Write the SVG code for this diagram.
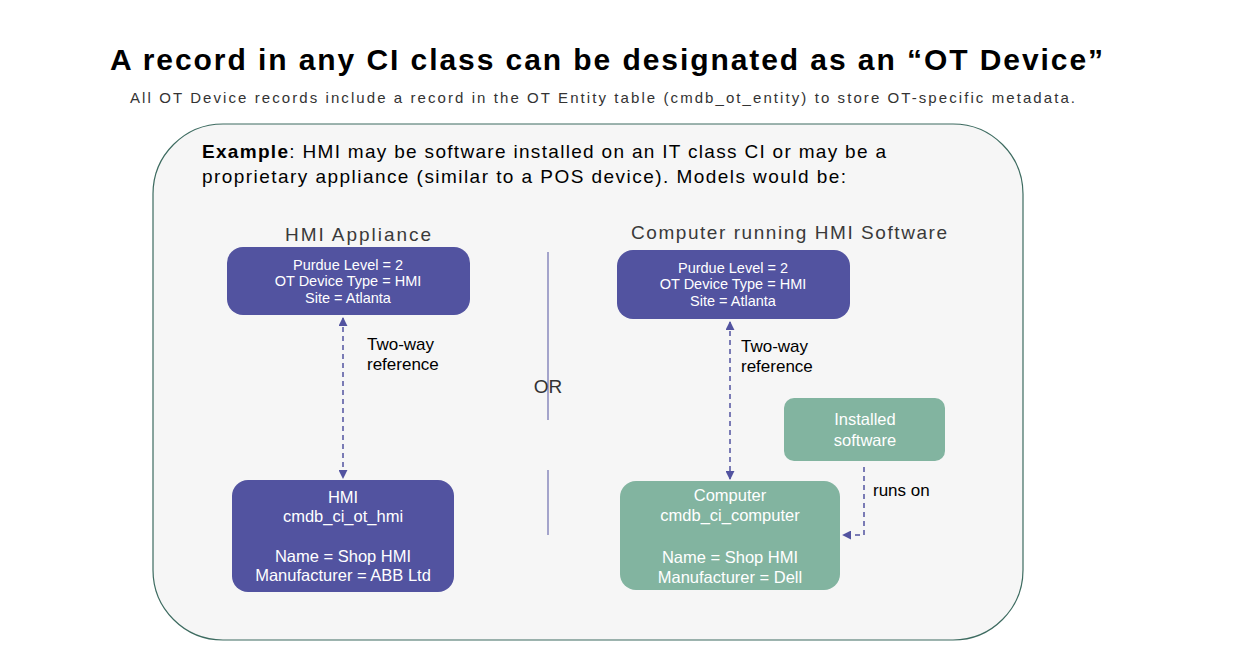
<svg xmlns="http://www.w3.org/2000/svg" width="1246" height="646" viewBox="0 0 1246 646">
<defs>
<style>
.t{font-family:"Liberation Sans",Arial,sans-serif}
.w{fill:#fff;font-size:14.5px;text-anchor:middle;font-family:"Liberation Sans",Arial,sans-serif}
.wb{fill:#fff;font-size:16.5px;text-anchor:middle;font-family:"Liberation Sans",Arial,sans-serif}
.p{fill:#5253A0}
.g{fill:#82B4A0}
.c{stroke:#5253A0;stroke-width:1.5;stroke-dasharray:5 4;fill:none}
</style>
<marker id="a" viewBox="0 0 10 10" refX="9" refY="5" markerWidth="6" markerHeight="6" orient="auto-start-reverse"><path d="M0,0L10,5L0,10z" fill="#5253A0"/></marker>
</defs>
<rect width="1246" height="646" fill="#fff"/>
<text x="110" y="70" class="t" font-size="30" font-weight="bold" fill="#000" textLength="993" lengthAdjust="spacing">A record in any CI class can be designated as an “OT Device”</text>
<text x="130" y="103" class="t" font-size="15" fill="#333" textLength="945" lengthAdjust="spacing">All OT Device records include a record in the OT Entity table (cmdb_ot_entity) to store OT-specific metadata.</text>
<rect x="153" y="124" width="870" height="516" rx="70" fill="#f6f6f6" stroke="#3d6b60" stroke-width="1.2"/>
<text x="202" y="158" class="t" font-size="19" fill="#000" textLength="684" lengthAdjust="spacing"><tspan font-weight="bold">Example</tspan>: HMI may be software installed on an IT class CI or may be a</text>
<text x="202" y="183" class="t" font-size="19" fill="#000" textLength="644" lengthAdjust="spacing">proprietary appliance (similar to a POS device).  Models would be:</text>
<text x="285" y="241" class="t" font-size="19" fill="#3a3a3a" textLength="146" lengthAdjust="spacing">HMI Appliance</text>
<text x="631" y="239" class="t" font-size="19" fill="#3a3a3a" textLength="316" lengthAdjust="spacing">Computer running HMI Software</text>
<g id="sep" stroke="#5253A0" stroke-width="1"><line x1="548" y1="252" x2="548" y2="420"/><line x1="548" y1="470" x2="548" y2="535"/></g>
<text x="548" y="393" class="t" font-size="19" text-anchor="middle" fill="#333">OR</text>
<g id="connectors">
<line class="c" x1="343" y1="318" x2="343" y2="478" marker-start="url(#a)" marker-end="url(#a)"/>
<line class="c" x1="730" y1="322" x2="730" y2="479" marker-start="url(#a)" marker-end="url(#a)"/>
<path class="c" d="M864 467V535H843" marker-end="url(#a)"/>
<text x="367" y="350" class="t" font-size="17" fill="#000">Two-way</text>
<text x="367" y="370" class="t" font-size="17" fill="#000">reference</text>
<text x="741" y="352" class="t" font-size="17" fill="#000">Two-way</text>
<text x="741" y="372" class="t" font-size="17" fill="#000">reference</text>
<text x="873" y="496" class="t" font-size="17" fill="#000">runs on</text>
</g>
<g id="ot1"><rect class="p" x="227" y="247" width="243" height="68" rx="16"/>
<text class="w" x="348" y="270">Purdue Level = 2</text><text class="w" x="348" y="286">OT Device Type = HMI</text><text class="w" x="348" y="303">Site = Atlanta</text></g>
<g id="ot2"><rect class="p" x="617" y="250" width="233" height="69" rx="16"/>
<text class="w" x="733" y="273">Purdue Level = 2</text><text class="w" x="733" y="289">OT Device Type = HMI</text><text class="w" x="733" y="306">Site = Atlanta</text></g>
<g id="hmi"><rect class="p" x="232" y="480" width="222" height="112" rx="16"/>
<text class="wb" x="343" y="503">HMI</text><text class="wb" x="343" y="522">cmdb_ci_ot_hmi</text><text class="wb" x="343" y="562">Name = Shop HMI</text><text class="wb" x="343" y="581">Manufacturer = ABB Ltd</text></g>
<g id="computer"><rect class="g" x="620" y="481" width="220" height="109" rx="16"/>
<text class="wb" x="730" y="501">Computer</text><text class="wb" x="730" y="521">cmdb_ci_computer</text><text class="wb" x="730" y="563">Name = Shop HMI</text><text class="wb" x="730" y="583">Manufacturer = Dell</text></g>
<g id="sw"><rect class="g" x="784" y="398" width="161" height="63" rx="10"/>
<text class="wb" x="865" y="425">Installed</text><text class="wb" x="865" y="446">software</text></g>
</svg>
